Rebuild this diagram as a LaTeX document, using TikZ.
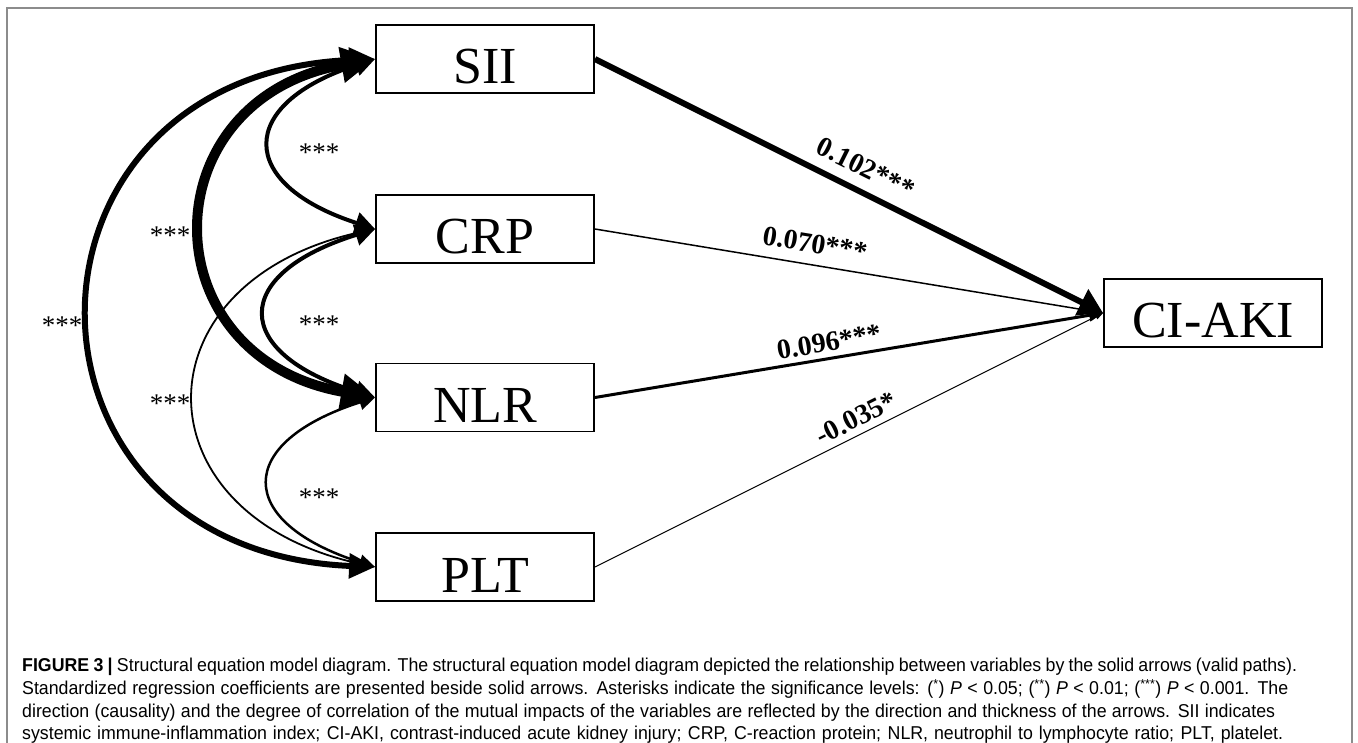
\documentclass[tikz,border=0pt]{standalone}
\usepackage{fontspec}
\setmainfont{Liberation Serif}
\newfontfamily\capfont[FakeStretch=0.955]{Liberation Sans}
\usetikzlibrary{arrows.meta}
\definecolor{framegray}{gray}{0.55}
\begin{document}
\begin{tikzpicture}[x=1pt,y=-1pt,
  var/.style={draw=black,line width=1.8pt,minimum width=218pt,minimum height=68pt,inner sep=0pt,
    font=\fontsize{52}{52}\selectfont,text height=50pt,text depth=0pt},
  stars/.style={font=\fontsize{27}{27}\selectfont,inner sep=0pt},
  coef/.style={font=\bfseries\fontsize{28}{28}\selectfont,inner sep=0pt},
  capline/.style={anchor=base west,inner sep=0pt,font=\capfont\fontsize{18.6}{22.7}\selectfont},
  framestyle/.style={draw=framegray,line width=1.6pt},
]
\useasboundingbox (0,0) rectangle (1358,743);
\fill[white] (0,0) rectangle (1358,743);
\draw[framestyle] (7,750) -- (7,8) -- (1352,8) -- (1352,750);

% variables
\node[var] (SII) at (485,59) {SII};
\node[var] (CRP) at (485,229) {CRP};
\node[var] (NLR) at (485,397.5) {NLR};
\node[var] (PLT) at (485,567) {PLT};
\node[var] (CIAKI) at (1213,313) {CI-AKI};

% straight paths to CI-AKI
\draw[line width=1pt,-{Triangle[length=8pt,width=6pt]}] (PLT.east) -- (CIAKI.west);
\draw[line width=1.5pt,-{Triangle[length=10pt,width=8pt]}] (CRP.east) -- (CIAKI.west);
\draw[line width=3pt,-{Triangle[length=14pt,width=12pt]}] (NLR.east) -- (CIAKI.west);
\draw[line width=6pt,-{Triangle[length=24pt,width=28pt]}] (SII.east) -- (CIAKI.west);

% correlations (curved double-headed)
\draw[line width=1.8pt,{Triangle[length=14pt,width=13pt]}-{Triangle[length=14pt,width=13pt]}]
  (CRP.west) .. controls +(-241,51) and +(-241,-51) .. (PLT.west);
\draw[line width=2.5pt,{Triangle[length=16pt,width=15pt]}-{Triangle[length=16pt,width=15pt]}]
  (NLR.west) .. controls +(-141,45) and +(-141,-45) .. (PLT.west);
\draw[line width=4pt,{Triangle[length=20pt,width=21pt]}-{Triangle[length=20pt,width=21pt]}]
  (CRP.west) .. controls +(-145,45) and +(-145,-45) .. (NLR.west);
\draw[line width=4pt,{Triangle[length=20pt,width=21pt]}-{Triangle[length=20pt,width=21pt]}]
  (SII.west) .. controls +(-139,45) and +(-139,-45) .. (CRP.west);
\draw[line width=6pt,{Triangle[length=26pt,width=24pt]}-{Triangle[length=26pt,width=24pt]}]
  (SII.west) .. controls +(-379,16) and +(-379,-16) .. (PLT.west);
\draw[line width=10pt,{Triangle[length=34pt,width=34pt]}-{Triangle[length=34pt,width=34pt]}]
  (SII.west) .. controls +(-227,40) and +(-227,-40) .. (NLR.west);

% significance labels of correlations
\node[stars] (s1) at (319,153) {***};
\node[stars] (s2) at (170,236) {***};
\node[stars] (s3) at (62,326) {***};
\node[stars] (s4) at (319,325) {***};
\node[stars] (s5) at (170,404) {***};
\node[stars] (s6) at (319,498) {***};

% path coefficients
\node[coef,rotate=-26.5] (c1) at (866,168) {0.102***};
\node[coef,rotate=-9.4] (c2) at (815,244) {0.070***};
\node[coef,rotate=9.5] (c3) at (829,342) {0.096***};
\node[coef,rotate=26.6] (c4) at (856,418) {-0.035*};

% caption
\node[capline] (cap1) at (22,671.7) {\makebox[1275pt][s]{\textbf{FIGURE 3 |} Structural equation model diagram. The structural equation model diagram depicted the relationship between variables by the solid arrows (valid paths).}};
\node[capline] (cap2) at (22,694.4) {\makebox[1266pt][s]{Standardized regression coefficients are presented beside solid arrows. Asterisks indicate the significance levels: (\textsuperscript{*}) \textit{P} < 0.05; (\textsuperscript{**}) \textit{P} < 0.01; (\textsuperscript{***}) \textit{P} < 0.001. The}};
\node[capline] (cap3) at (22,717.1) {\makebox[1253pt][s]{direction (causality) and the degree of correlation of the mutual impacts of the variables are reflected by the direction and thickness of the arrows. SII indicates}};
\node[capline] (cap4) at (22,739.8) {\makebox[1261pt][s]{systemic immune-inflammation index; CI-AKI, contrast-induced acute kidney injury; CRP, C-reaction protein; NLR, neutrophil to lymphocyte ratio; PLT, platelet.}};
\end{tikzpicture}
\end{document}
